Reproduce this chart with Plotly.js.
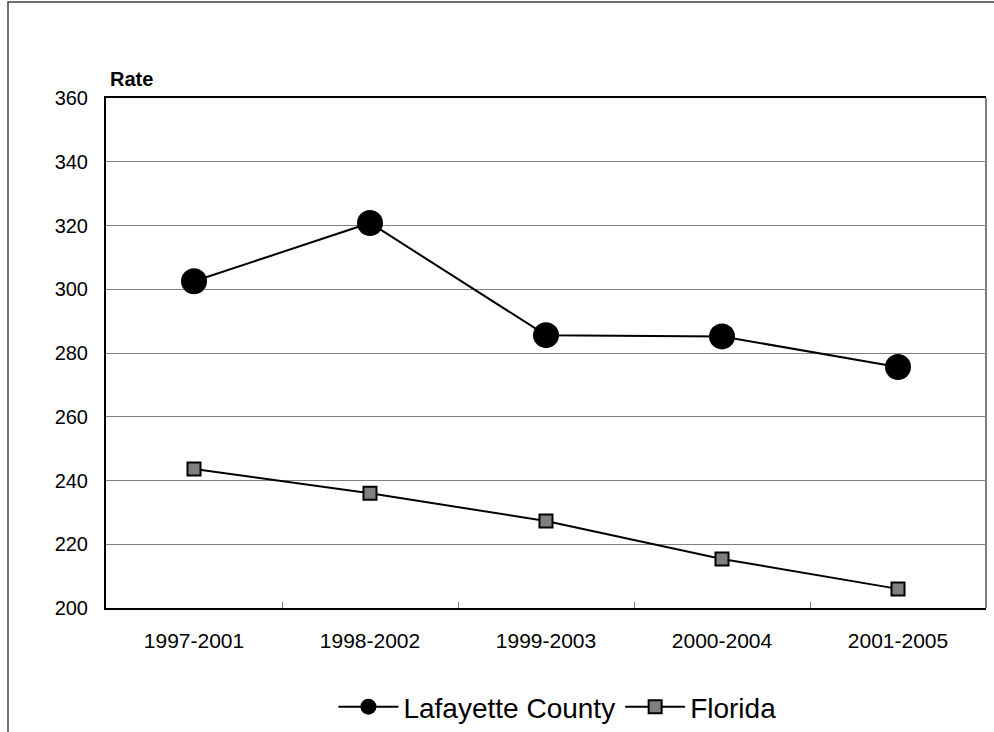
<!DOCTYPE html>
<html>
<head>
<meta charset="utf-8">
<script src="https://cdn.plot.ly/plotly-3.0.1.min.js"></script>
<style>
html,body{margin:0;padding:0;background:#fff;overflow:hidden;}
#chart{width:994px;height:745px;}
</style>
</head>
<body>
<div id="chart"></div>
<script>
const periods = ["1997-2001", "1998-2002", "1999-2003", "2000-2004", "2001-2005"];
const lafayette = [302.5, 320.8, 285.6, 285.2, 275.6];
const florida = [243.6, 236.0, 227.3, 215.4, 206.0];
const yTicks = [200, 220, 240, 260, 280, 300, 320, 340, 360];

const FONT = "Liberation Sans, Arial, sans-serif";

const traces = [
  {
    x: periods, y: lafayette, name: "Lafayette County",
    type: "scatter", mode: "lines+markers",
    line: {color: "#000000", width: 2},
    marker: {symbol: "circle", size: 26, color: "#000000"}
  },
  {
    x: periods, y: florida, name: "Florida",
    type: "scatter", mode: "lines+markers",
    line: {color: "#000000", width: 2},
    marker: {symbol: "square", size: 13, color: "#808080", line: {color: "#000000", width: 2}}
  }
];

const layout = {
  width: 994, height: 745,
  margin: {l: 106, r: 8, t: 98, b: 137},
  paper_bgcolor: "#ffffff", plot_bgcolor: "#ffffff",
  font: {family: FONT, color: "#000000"},
  showlegend: true,
  legend: {
    orientation: "h", x: 0.513, xanchor: "center", xref: "paper",
    y: -0.145, yanchor: "top",
    itemwidth: 60,
    font: {size: 28, family: FONT, color: "#000000"},
    itemclick: false, bgcolor: "rgba(0,0,0,0)"
  },
  xaxis: {
    type: "category", range: [-0.5, 4.5],
    showgrid: false, zeroline: false,
    showline: true, linecolor: "#000000", linewidth: 2, mirror: true,
    ticks: "inside", tickson: "boundaries", ticklen: 6, tickcolor: "#808080", tickwidth: 1,
    tickfont: {size: 21, family: FONT, color: "#000000"},
    ticklabelstandoff: 13,
    fixedrange: true
  },
  yaxis: {
    range: [200, 360], tickvals: yTicks, ticktext: yTicks.map(String),
    showgrid: true, gridcolor: "#808080", gridwidth: 1,
    zeroline: false,
    showline: true, linecolor: "#000000", linewidth: 2,
    ticks: "", tickfont: {size: 20, family: FONT, color: "#000000"},
    ticklabelstandoff: 12,
    fixedrange: true
  },
  annotations: [
    {text: "<b>Rate</b>", xref: "paper", yref: "paper", x: 0, y: 1,
     xanchor: "left", yanchor: "bottom", xshift: 2, yshift: 6, showarrow: false,
     font: {size: 20, family: FONT, color: "#000000"}}
  ],
  shapes: [
    {type: "line", xref: "paper", yref: "paper", x0: 1, x1: 1, y0: 0, y1: 1,
     line: {color: "#808080", width: 2}},
    {type: "rect", xref: "paper", yref: "paper",
     x0: (8 - 106) / 880, x1: (1010 - 106) / 880,
     y0: (608 - 760) / 510, y1: 1 + (98 - 2) / 510,
     line: {color: "#404040", width: 1.5}, fillcolor: "rgba(0,0,0,0)", layer: "below"}
  ]
};

Plotly.newPlot("chart", traces, layout, {staticPlot: true, displayModeBar: false});
</script>
</body>
</html>
